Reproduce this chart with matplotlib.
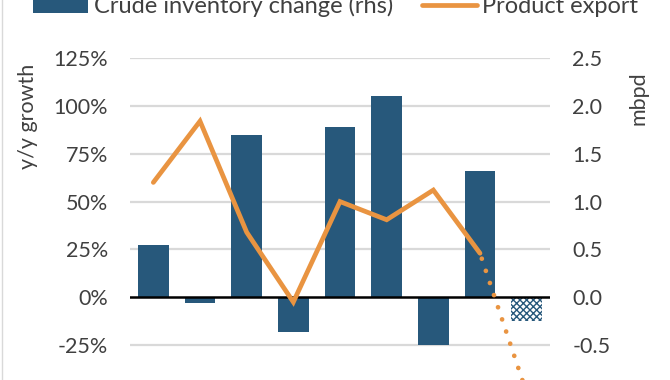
import numpy as np
import matplotlib
matplotlib.use("Agg")
import matplotlib.pyplot as plt
from matplotlib.patches import Patch
from matplotlib.lines import Line2D

# data
periods = np.arange(9)
inventory_change = [0.55, -0.06, 1.70, -0.36, 1.78, 2.10, -0.50, 1.32, -0.25]  # mbpd, rhs
inventory_forecast = [False, False, False, False, False, False, False, False, True]
product_export = [60, 92, 34, -2.5, 50, 40.5, 56, 23, -50]  # y/y growth %
export_forecast_from = 7  # dotted after this point

left_ticks = [-25, 0, 25, 50, 75, 100, 125]
right_ticks = [-0.5, 0.0, 0.5, 1.0, 1.5, 2.0, 2.5]

blue = "#27587b"
orange = "#e99441"
grid_col = "#d9d9d9"

plt.rcParams['font.family'] = ['Lato', 'DejaVu Sans']
fs = 15.5
fs_leg = 17

fig = plt.figure(figsize=(6.7, 3.8), dpi=100)
W, H = 670, 380
# axes box (pixels): x 130..550, y(top) 58..393 -> bottom goes past the figure edge
ax = fig.add_axes([130 / W, 1 - 393 / H, 420 / W, 335 / H])
ax2 = ax.twinx()

# bars on the right axis
for i, (v, fc) in enumerate(zip(inventory_change, inventory_forecast)):
    if fc:
        ax2.bar(periods[i], v, width=0.66, facecolor="white", edgecolor=blue,
                hatch="xxxxx", linewidth=0, zorder=2)
    else:
        ax2.bar(periods[i], v, width=0.66, color=blue, zorder=2)
ax2.set_ylim(-1.0, 2.5)
ax2.set_yticks(right_ticks)
ax2.set_yticklabels([f"{t:.1f}" for t in right_ticks])

# line on the left axis, drawn above bars
ax.set_zorder(ax2.get_zorder() + 1)
ax.patch.set_visible(False)
k = export_forecast_from
ax.plot(periods[:k + 1], product_export[:k + 1], color=orange, lw=3.4,
        solid_capstyle="round", solid_joinstyle="miter", zorder=3)
ax.plot(periods[k:], product_export[k:], color=orange, lw=3.4,
        linestyle=(1.5, (0.01, 2.7)), dash_capstyle="round", zorder=3)
ax.set_ylim(-50, 125)
ax.set_yticks(left_ticks)
ax.set_yticklabels([f"{t}%" for t in left_ticks])
ax.set_xlim(-0.5, 8.5)
ax.set_xticks([])

# grid + zero line (on the bar axis, behind everything)
for t in right_ticks:
    if t != 0:
        ax2.axhline(t, color=grid_col, lw=1.6, zorder=0)
ax.axhline(0, color="black", lw=1.8, zorder=2.5)

for a in (ax, ax2):
    for s in a.spines.values():
        s.set_visible(False)
    a.tick_params(axis="y", length=0, labelsize=fs, labelcolor="#404040", pad=16)
    a.tick_params(axis="x", length=0)

fig.text(28 / W, 1 - 116 / H, "y/y growth", rotation=90, ha="center", va="center",
         fontsize=fs, color="#404040")
fig.text(638 / W, 1 - 98 / H, "mbpd", rotation=90, ha="center", va="center",
         fontsize=fs, color="#404040")

# left border line of the chart area
fig.add_artist(Line2D([2 / W, 2 / W], [0, 1], color="#d9d9d9", lw=1))

handles = [Patch(facecolor=blue), Line2D([], [], color=orange, lw=3.4, solid_capstyle="round")]
labels = ["Crude inventory change (rhs)", "Product export"]
fig.legend(handles, labels, loc="center left", bbox_to_anchor=(33 / W, 1 - 6 / H),
           ncol=2, frameon=False, fontsize=fs_leg, handlelength=2.33, handleheight=0.66,
           handletextpad=0.25, columnspacing=1.2, labelcolor="#404040",
           borderaxespad=0, borderpad=0)

fig.savefig("out.png", dpi=100)
